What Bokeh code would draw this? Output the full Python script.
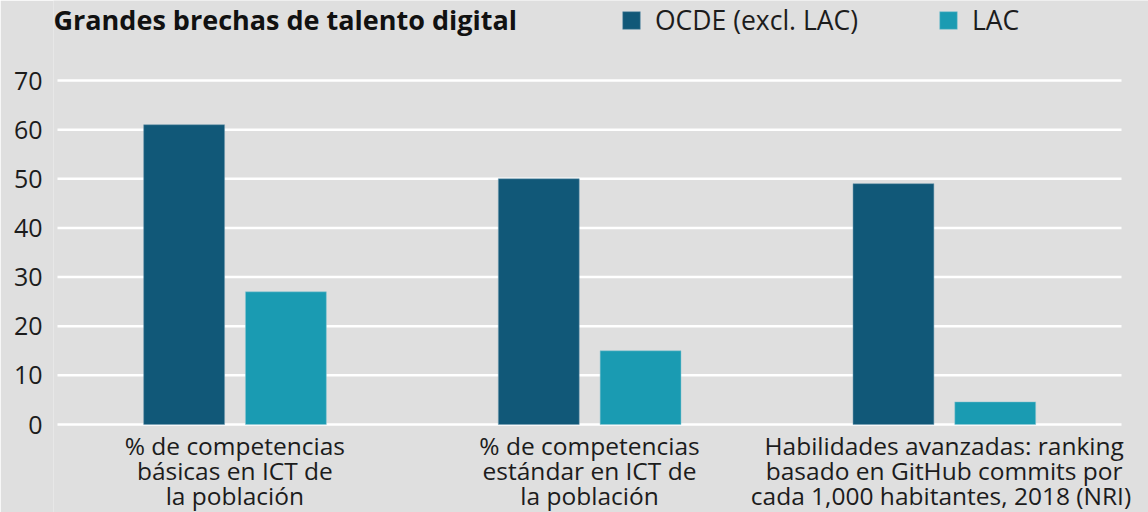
from bokeh.plotting import figure
from bokeh.models import Range1d, Legend, LegendItem, Label, FixedTicker
from bokeh.core.properties import value
from bokeh.embed import file_html
from bokeh.resources import INLINE

# ---- data ----
categories = [
    "% de competencias\nbásicas en ICT de\nla población",
    "% de competencias\nestándar en ICT de\nla población",
    "Habilidades avanzadas: ranking\nbasado en GitHub commits por\ncada 1,000  habitantes, 2018 (NRI)",
]
ocde = [61, 50, 49]
lac = [27, 15, 4.6]
series_names = ["OCDE (excl. LAC)", "LAC"]
y_ticks = [0, 10, 20, 30, 40, 50, 60, 70]
title_text = "Grandes brechas de talento digital"

BG = "#dfdfdf"
C_OCDE = "#115878"
C_LAC = "#1a9bb2"
FONT = "Open Sans"
TXT = "#1c1c1c"

W, H = 1148, 512
LEFT = 53                 # frame left edge (px)
GRID_L, GRID_R = 57, 1121  # extent of the category band (px)
ZERO_PX, TOP_PX = 424, 80  # rows of the 0 and 70 lines
PPU_Y = (ZERO_PX - TOP_PX) / 70.0
n = len(categories)
PPU_X = (GRID_R - GRID_L) / n
x0_px = GRID_L + PPU_X / 2           # pixel column of category 0
x_start = (LEFT - x0_px) / PPU_X
x_end = (W - x0_px) / PPU_X
y_start = -(H - ZERO_PX) / PPU_Y
y_end = ZERO_PX / PPU_Y

p = figure(
    width=W, height=H,
    x_range=Range1d(x_start, x_end),
    y_range=Range1d(y_start, y_end),
    output_backend="svg", toolbar_location=None,
    min_border_left=LEFT, min_border_right=0, min_border_top=0, min_border_bottom=0,
)
p.background_fill_color = BG
p.border_fill_color = BG
p.outline_line_color = None
p.grid.visible = False
p.xaxis.visible = False

xs = list(range(n))
# horizontal grid lines across the category band
p.segment(x0=[-0.5] * len(y_ticks), x1=[n - 0.5] * len(y_ticks), y0=y_ticks, y1=y_ticks,
          line_color="#ffffff", line_width=2.5)

r1 = p.vbar(x=[i - 0.143 for i in xs], top=ocde, bottom=0, width=0.228,
            fill_color=C_OCDE, line_color="#6f9ab0", line_alpha=0.5, line_width=1)
r2 = p.vbar(x=[i + 0.144 for i in xs], top=lac, bottom=0, width=0.228,
            fill_color=C_LAC, line_color="#8cc8d4", line_alpha=0.5, line_width=1)

# category labels, one line at a time below the 0 line
line_offsets = [21, 46, 71]
split = [c.split("\n") for c in categories]
for k, off in enumerate(line_offsets):
    p.text(x=xs, y=[0] * n, text=[s[k] for s in split], y_offset=off,
           text_font=value(FONT), text_font_size="24.5px", text_color=TXT,
           text_align="center", text_baseline="middle")

# y axis
p.yaxis.ticker = FixedTicker(ticks=y_ticks)
p.yaxis.axis_line_color = None
p.yaxis.major_tick_line_color = None
p.yaxis.minor_tick_line_color = None
p.yaxis.major_label_standoff = 5
p.yaxis.major_label_text_font = FONT
p.yaxis.major_label_text_font_size = "25px"
p.yaxis.major_label_text_color = TXT

# title
p.add_layout(Label(x=0, y=H - 19, x_units="screen", y_units="screen", text=title_text,
                   text_font=FONT, text_font_style="bold", text_font_size="27px",
                   text_color="#111111", text_baseline="middle"))

# legends
def make_legend(name, rend, x):
    lg = Legend(items=[LegendItem(label=name, renderers=[rend])], location=(x, H - 38),
                orientation="horizontal", glyph_width=22, glyph_height=22,
                label_standoff=13, padding=0, margin=0, spacing=0,
                label_text_font=FONT, label_text_font_size="26.5px", label_text_color=TXT,
                background_fill_alpha=0, border_line_color=None)
    p.add_layout(lg, "center")

make_legend(series_names[0], r1, 620 - LEFT)
make_legend(series_names[1], r2, 937 - LEFT)

open("out.html", "w").write(file_html(p, INLINE))
